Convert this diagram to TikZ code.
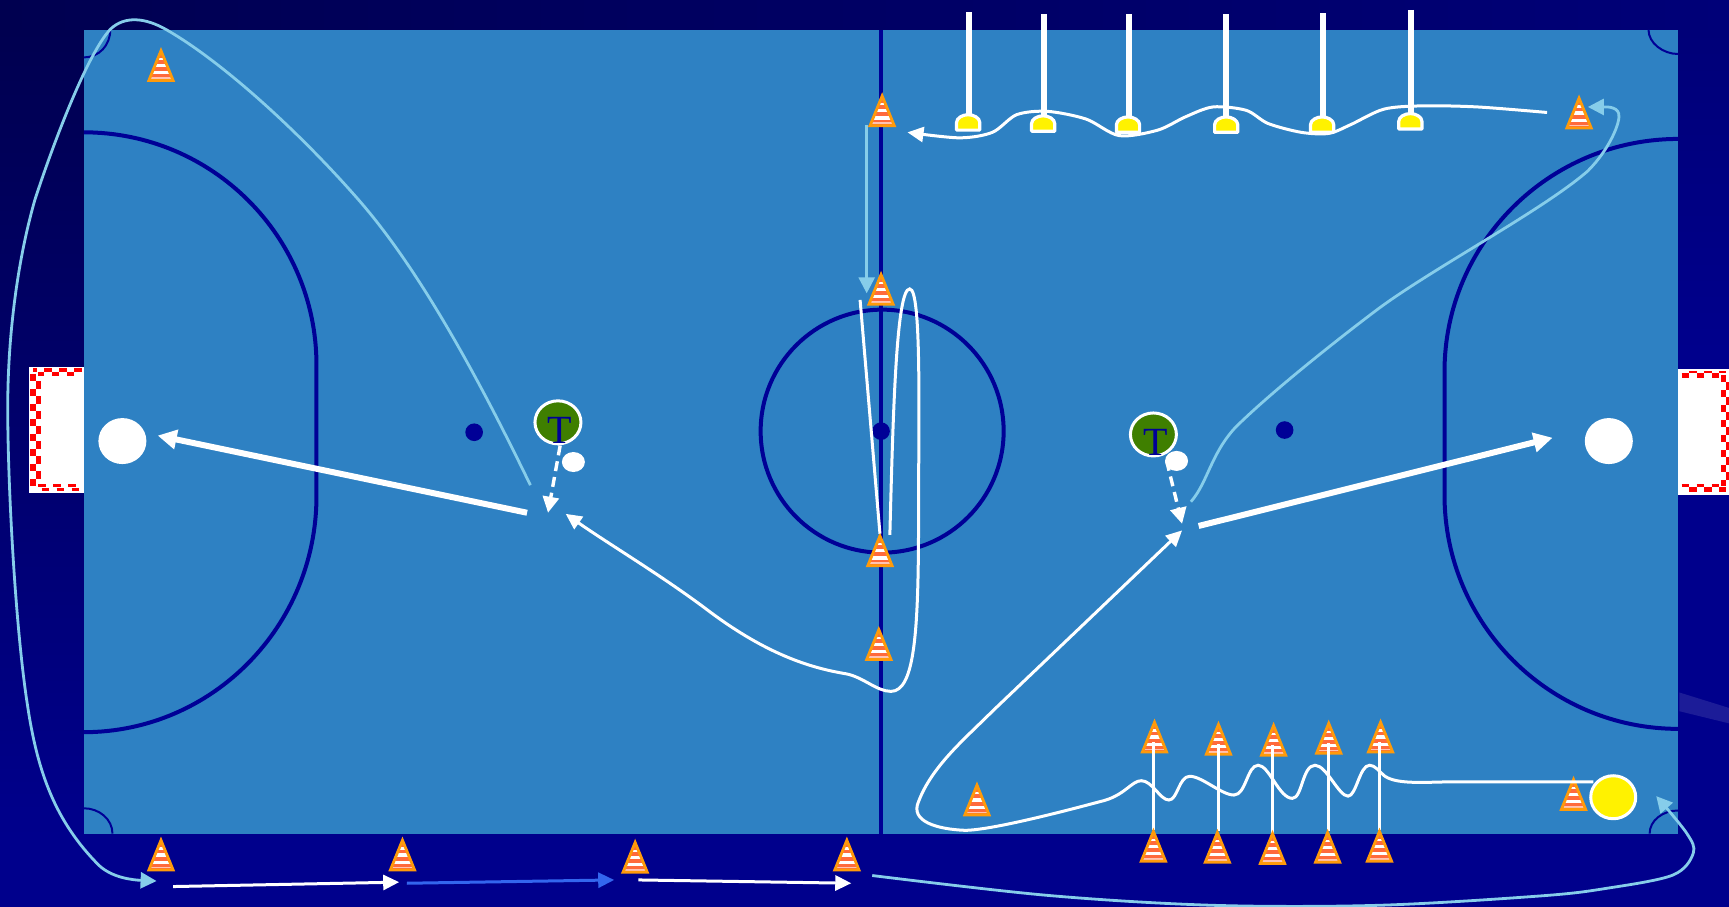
\documentclass[tikz,border=0pt]{standalone}
\usepackage{fontspec}
\setmainfont{Liberation Serif}
\usetikzlibrary{arrows.meta,shapes.geometric}
\definecolor{fieldblue}{HTML}{2E81C3}
\definecolor{navyline}{HTML}{000096}
\definecolor{bgnavy}{HTML}{00008C}
\definecolor{bgdark}{HTML}{000050}
\definecolor{bgmid}{HTML}{00006C}
\definecolor{bgtop}{HTML}{000078}
\definecolor{bgband}{HTML}{1C1C98}
\definecolor{skyline}{HTML}{86CDEA}
\definecolor{coneorange}{HTML}{FF9A0A}
\definecolor{conered}{HTML}{FF6A3C}
\definecolor{royal}{HTML}{3366EE}
\definecolor{tgreen}{HTML}{3F7F00}
\tikzset{
  marking/.style={draw=navyline,line width=4pt},
  cornerarc/.style={draw=navyline,line width=2pt},
  whiteflow/.style={draw=white,line width=3pt,-{Triangle[length=16pt,width=15pt]}},
  skyflow/.style={draw=skyline,line width=2.8pt,-{Triangle[length=16pt,width=16pt]}},
  royalflow/.style={draw=royal,line width=3pt,-{Triangle[length=16pt,width=15pt]}},
  thickflow/.style={draw=white,line width=6pt,-{Triangle[length=19pt,width=19pt]}},
  dashflow/.style={draw=white,line width=3.4pt,dash pattern=on 10pt off 6pt,-{Triangle[length=16pt,width=16pt]}},
  plainline/.style={draw=white,line width=3pt},
  postline/.style={draw=white,line width=6pt},
  discnode/.style={ellipse,fill=white,inner sep=0pt,minimum width=48pt,minimum height=46pt},
  ballnode/.style={ellipse,fill=white,inner sep=0pt,minimum width=23pt,minimum height=20pt},
  yellownode/.style={ellipse,fill=yellow,draw=white,line width=3pt,inner sep=0pt,minimum width=45pt,minimum height=43pt},
  tnode/.style={ellipse,fill=tgreen,draw=white,line width=3pt,inner sep=0pt,minimum width=46pt,minimum height=43pt},
  tlabel/.style={inner sep=0pt,text=navyline,font=\fontsize{40}{40}\selectfont},
  goalred/.style={draw=red,line width=3.5pt,dash pattern=on 7.5pt off 7.5pt},
  goalalt/.style={goalred,dash phase=7.5pt},
  conepic/.pic={
    \begin{scope}
      \clip (0,0)--(12,30)--(-12,30)--cycle;
      \fill[conered] (-12,0) rectangle (12,30);
      \fill[white] (-12,8.5) rectangle (12,10.5);
      \fill[white] (-12,14) rectangle (12,17);
      \fill[white] (-12,20.5) rectangle (12,23.5);
      \fill[white!60!conered] (-12,26) rectangle (12,27.5);
    \end{scope}
    \draw[coneorange,line width=2.8pt,line join=miter] (0,2)--(11,29)--(-11,29)--cycle;
  },
  domepic/.pic={
    \draw[fill=yellow,draw=white,line width=3.2pt,line join=round]
      (-10.5,0)--(-10.5,-7) .. controls (-10.5,-11) and (-5,-14) .. (0,-14)
      .. controls (5,-14) and (10.5,-11) .. (10.5,-7)--(10.5,0)--cycle;
  }
}
\begin{document}
\begin{tikzpicture}[x=1.10268pt,y=-1.10268pt]
\useasboundingbox (0,0) rectangle (1568,822.5);
% background
\fill[bgnavy] (0,0) rectangle (1568,822.5);
\shade[top color=bgtop,bottom color=bgnavy] (1522,27) rectangle (1568,320);
\shade[top color=bgdark,bottom color=bgnavy,middle color=bgmid] (0,27) rectangle (76,760);
\shade[left color=bgdark,middle color=bgmid,right color=bgtop] (0,0) rectangle (1568,27);
\fill[bgband] (1523,628)--(1568,642)--(1568,656)--(1523,645)--cycle;
\fill[fieldblue] (76,27) rectangle (1522,756);
% goals
\fill[white] (26,333) rectangle (76,447);
\fill[white] (1522,335) rectangle (1568,449);
\draw[goalred] (74,335.5)--(30,335.5);
\draw[goalalt] (74,339)--(34.5,339);
\draw[goalred,line width=6pt] (30,339)--(30,441);
\draw[goalalt,line width=5pt] (34.8,339)--(34.8,441);
\draw[goalred] (34.8,440.5)--(74,440.5);
\draw[goalalt] (31,444)--(74,444);
\draw[goalred,line width=5pt] (1525,340.5)--(1560,340.5);
\draw[goalalt,line width=2pt] (1525,337)--(1565,337);
\draw[goalred,line width=5.5pt] (1563,340)--(1563,441);
\draw[goalalt,line width=3.5pt] (1567,340)--(1567,441);
\draw[goalred,line width=2.5pt] (1525,440.5)--(1562,440.5);
\draw[goalalt,line width=5pt] (1525,444.2)--(1565,444.2);
% markings
\draw[marking] (799,27)--(799,756);
\draw[marking] (76,120) .. controls (192.5,120) and (287,214.5) .. (287,331) -- (287,450)
  .. controls (287,568) and (192.5,664) .. (76,664);
\draw[marking] (1522,126) .. controls (1405,126) and (1310,220.5) .. (1310,337) -- (1310,449)
  .. controls (1310,566) and (1405,661) .. (1522,661);
\node[circle,draw=navyline,line width=4pt,inner sep=0pt,minimum size=243pt] (centre) at (800,391) {};
\fill[navyline] (430,392) circle[radius=8];
\fill[navyline] (799,391) circle[radius=8];
\fill[navyline] (1165,390) circle[radius=8];
\draw[cornerarc] (76,52) .. controls (90,52) and (100,41) .. (100,27);
\draw[cornerarc] (76,733) .. controls (90,733) and (102,743) .. (102,756);
\draw[cornerarc] (1495,27) .. controls (1495,39) and (1508,49) .. (1522,49);
\draw[cornerarc] (1496,756) .. controls (1496,744) and (1508,735) .. (1522,735);
% discs and players
\node[discnode] (gkleft) at (111,400) {};
\node[discnode] (gkright) at (1459,400) {};
\node[yellownode] (yball) at (1463,723) {};
\node[ballnode] (ballL) at (520,419) {};
\node[ballnode] (ballR) at (1067,418) {};
\node[tnode] (tL) at (506,383) {};
\node[tlabel,xshift=2pt,yshift=-8pt] at (tL) {T};
\node[tnode] (tR) at (1046,394) {};
\node[tlabel,xshift=2pt,yshift=-8pt] at (tR) {T};
% cones
\foreach \n/\x/\y in {a/146/44,b/800/85,c/799/247,d/798/484,e/797/569,f/886/710,g/1432/87,h/1427/705,
  i/146/760,j/365/760,k/576/762,l/768/760,
  m/1047/653,n/1105/655,o/1155/656,p/1205/654,q/1252/653}
  \pic (cone\n) at (\x,\y) {conepic};
% posts
\foreach \n/\x/\y/\dx/\dy in {1/879/11/878/118,2/947/13/946/119,3/1024/13/1023/120,4/1112/13/1112/120,5/1200/12/1199/120,6/1280/9/1279/117}{
  \coordinate (ptop\n) at (\x,\y);
  \coordinate (pbase\n) at (\dx,\dy);
  \draw[postline] (ptop\n)--(\x,\dy-12);
  \pic at (pbase\n) {domepic};
}
% slalom posts
\foreach \n/\x/\a/\b in {1/1046/673/753,2/1105/675/754,3/1154/676/755,4/1205/674/754,5/1251/673/753}{
  \coordinate (sa\n) at (\x,\a);
  \coordinate (sb\n) at (\x,\b);
  \draw[plainline] (sa\n)--(sb\n);
}
\foreach \n/\x/\y in {r/1046/752,s/1104/753,t/1154/754,u/1204/753,v/1251/752}
  \pic (cone\n) at (\x,\y) {conepic};
% free ends
\coordinate (w1) at (478,465);
\coordinate (w2) at (143,395);
\coordinate (e1) at (1087,477);
\coordinate (e2) at (1408,397);
\coordinate (cl1) at (786,113);
\coordinate (cl2) at (786,266);
\coordinate (dl1) at (508,404);
\coordinate (dl2) at (497,465);
\coordinate (dr1) at (1058,418);
\coordinate (dr2) at (1072,475);
\coordinate (s1) at (157,804);
\coordinate (s2) at (362,800);
\coordinate (s3) at (369,801);
\coordinate (s4) at (557,798);
\coordinate (s5) at (579,798);
\coordinate (s6) at (772,801);
\coordinate (z1) at (780,272);
\coordinate (z2) at (798,484);
\coordinate (zs) at (807,485);
\coordinate (ze) at (513,466);
\coordinate (hs) at (1445,709);
\coordinate (he) at (1072,481);
\coordinate (ls) at (481,440);
\coordinate (le) at (142,799);
\coordinate (rs) at (1080,455);
\coordinate (re) at (1440,97);
% connectors
\draw[thickflow] (w1)--(w2);
\draw[thickflow] (e1)--(e2);
\draw[skyflow] (cl1)--(cl2);
\draw[dashflow] (dl1)--(dl2);
\draw[dashflow] (dr1)--(dr2);
\draw[whiteflow] (s1)--(s2);
\draw[royalflow] (s3)--(s4);
\draw[whiteflow] (s5)--(s6);
\draw[plainline] (z1)--(z2);
\draw[whiteflow] (zs) .. controls (810,370) and (813,262) .. (825,262)
  .. controls (836,262) and (833,380) .. (833,470)
  .. controls (833,570) and (830,627) .. (808,627)
  .. controls (795,627) and (783,614) .. (767,611)
  .. controls (730,605) and (690,590) .. (640,552)
  .. controls (600,522) and (550,492) .. (ze);
\draw[whiteflow] plot[smooth,tension=0.5] coordinates {(1403,102) (1340,97) (1290,96) (1255,99) (1225,113) (1205,121) (1180,120) (1150,112) (1130,100) (1100,97) (1075,106) (1050,118) (1015,123) (985,108) (950,101) (922,104) (900,120) (870,125) (823,120)};
\draw[whiteflow] (hs) -- (1320,709) .. controls (1295,709) and (1268,712) .. (1256,704)
  .. controls (1250,699) and (1247,694) .. (1242,694)
  .. controls (1233,694) and (1230,722) .. (1222.5,722)
  .. controls (1214,722) and (1203,694) .. (1192.5,694)
  .. controls (1181,694) and (1181,724) .. (1172,724)
  .. controls (1160,724) and (1151,694) .. (1141,694)
  .. controls (1131,694) and (1130,721) .. (1119,721)
  .. controls (1108,721) and (1090,704) .. (1079,704)
  .. controls (1069,704) and (1068,725.5) .. (1060,725.5)
  .. controls (1052,725.5) and (1045,708) .. (1035,708)
  .. controls (1026,708) and (1020,722) .. (997.5,727)
  .. controls (975,733) and (900,753) .. (875,753)
  .. controls (850,752) and (825,745) .. (833,727)
  .. controls (845,695) and (875,670) .. (900,645) -- (he);
\draw[skyflow] (ls) .. controls (435,345) and (381,245) .. (325,181)
  .. controls (269,117) and (200,55) .. (151,27)
  .. controls (132,16) and (113,14) .. (100,26.6)
  .. controls (80,48) and (50,125) .. (31.7,181)
  .. controls (17,232) and (7,300) .. (7,370)
  .. controls (7,440) and (14,570) .. (25,640)
  .. controls (34,700) and (50,745) .. (90,785)
  .. controls (102,796) and (120,798) .. (le);
\draw[skyflow] (rs) .. controls (1095,438) and (1098,412) .. (1120,388)
  .. controls (1150,358) and (1210,310) .. (1250,280)
  .. controls (1300,243) and (1400,190) .. (1440,155)
  .. controls (1460,135) and (1470,110) .. (1468,103)
  .. controls (1466,96) and (1455,97) .. (re);
\draw[skyflow] plot[smooth,tension=0.55] coordinates {(791,794) (950,812) (1100,821) (1250,821) (1397,812.5) (1457,805.6) (1517,793.6) (1535.6,773.7) (1529.6,755.6) (1502,722)};
\end{tikzpicture}
\end{document}
